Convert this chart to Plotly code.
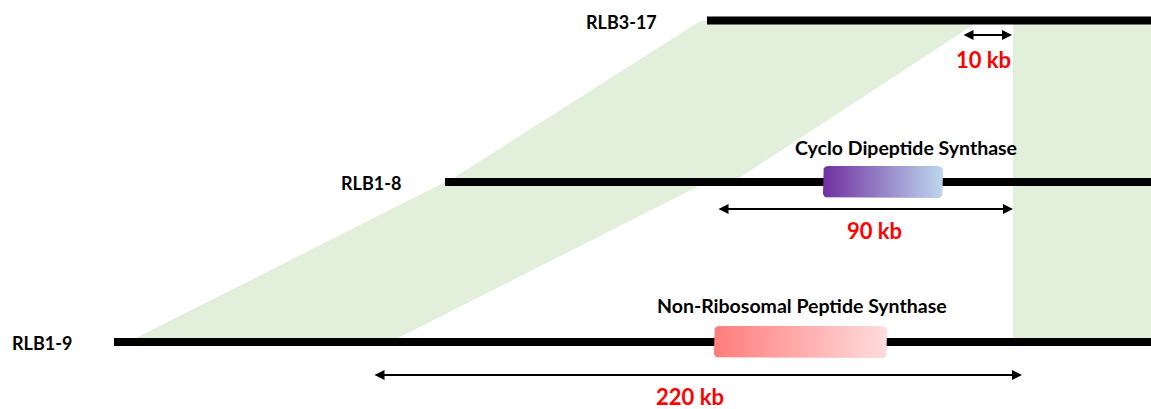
import math
import plotly.graph_objects as go

# Genome tracks (schematic map units, 1 unit = 1 px along each axis)
track_names = ["RLB3-17", "RLB1-8", "RLB1-9"]
track_y = [20.5, 182, 342]
track_start = [707, 445, 114]
track_end = [1151, 1151, 1151]
track_label_x = [584, 339, 10]

# Syntenic blocks between neighbouring tracks: (upper track, lower track) and x extents
block_pairs = [(0, 1), (1, 2)]
block_upper_x = [[701, 980], [445, 707]]
block_lower_x = [[447, 733], [128, 390]]

# Conserved region shared by all three tracks
shared_x = [1013, 1151]
shared_tracks = (0, 2)

# Biosynthetic genes
gene_names = ["Cyclo Dipeptide Synthase", "Non-Ribosomal Peptide Synthase"]
gene_track = [1, 2]
gene_start = [823, 714]
gene_end = [943, 887]
gene_colors = [["#7030A0", "#BDD7EE"], ["#FF7C7C", "#FFDCDC"]]
gene_label_x = [906, 802]
gene_label_y = [147, 305]

# Distance markers
dist_labels = ["10 kb", "90 kb", "220 kb"]
dist_start = [962, 717, 373]
dist_end = [1012, 1013, 1022]
dist_y = [35, 209, 375]
dist_label_x = [983, 874, 690]
dist_label_y = [59, 230, 396]

GREEN = "#E2EFDA"
FONT = "Lato"

fig = go.Figure()

# Green syntenic blocks
for (a, b), ux, lx in zip(block_pairs, block_upper_x, block_lower_x):
    fig.add_trace(go.Scatter(
        x=[ux[0], ux[1], lx[1], lx[0], ux[0]],
        y=[track_y[a], track_y[a], track_y[b], track_y[b], track_y[a]],
        mode="lines", fill="toself", fillcolor=GREEN,
        line=dict(width=0, color=GREEN), hoverinfo="skip", showlegend=False))

ta, tb = shared_tracks
fig.add_trace(go.Scatter(
    x=[shared_x[0], shared_x[1], shared_x[1], shared_x[0], shared_x[0]],
    y=[track_y[ta], track_y[ta], track_y[tb], track_y[tb], track_y[ta]],
    mode="lines", fill="toself", fillcolor=GREEN,
    line=dict(width=0, color=GREEN), hoverinfo="skip", showlegend=False))

# Black genome tracks
for y, x0, x1 in zip(track_y, track_start, track_end):
    fig.add_trace(go.Scatter(
        x=[x0, x1], y=[y, y], mode="lines",
        line=dict(color="black", width=8), hoverinfo="skip", showlegend=False))


def rounded_rect(x0, x1, y0, y1, r, n=6):
    """Outline of a rounded rectangle as a closed polyline."""
    xs, ys = [], []
    corners = [(x1 - r, y0 + r, -90, 0), (x1 - r, y1 - r, 0, 90),
               (x0 + r, y1 - r, 90, 180), (x0 + r, y0 + r, 180, 270)]
    for cx, cy, a0, a1 in corners:
        for i in range(n + 1):
            t = math.radians(a0 + (a1 - a0) * i / n)
            xs.append(cx + r * math.cos(t))
            ys.append(cy + r * math.sin(t))
    xs.append(xs[0])
    ys.append(ys[0])
    return xs, ys


# Gene boxes with horizontal colour gradients
GENE_HALF_HEIGHT = 16
for t, x0, x1, cols in zip(gene_track, gene_start, gene_end, gene_colors):
    yc = track_y[t]
    xs, ys = rounded_rect(x0, x1, yc - GENE_HALF_HEIGHT, yc + GENE_HALF_HEIGHT, 5)
    fig.add_trace(go.Scatter(
        x=xs, y=ys, mode="lines", fill="toself",
        fillgradient=dict(type="horizontal", colorscale=[[0, cols[0]], [1, cols[1]]],
                          start=x0, stop=x1),
        line=dict(width=0, color=cols[1]), hoverinfo="skip", showlegend=False))

annotations = []

# Track labels
for name, lx, y in zip(track_names, track_label_x, track_y):
    annotations.append(dict(
        x=lx, y=y + 1, xref="x", yref="y", text=f"<b>{name}</b>", showarrow=False,
        xanchor="left", yanchor="middle", font=dict(family=FONT, size=18, color="black")))

# Gene labels
for name, lx, ly in zip(gene_names, gene_label_x, gene_label_y):
    annotations.append(dict(
        x=lx, y=ly, xref="x", yref="y", text=f"<b>{name}</b>", showarrow=False,
        xanchor="center", yanchor="middle", font=dict(family=FONT, size=19.5, color="black")))

# Distance arrows and labels
for lab, x0, x1, y, lx, ly in zip(dist_labels, dist_start, dist_end, dist_y,
                                  dist_label_x, dist_label_y):
    annotations.append(dict(
        x=x1, y=y, ax=x0, ay=y, xref="x", yref="y", axref="x", ayref="y",
        text="", showarrow=True, arrowhead=2, startarrowhead=2, arrowside="end+start",
        arrowwidth=2, arrowsize=1, startarrowsize=1, arrowcolor="black",
        standoff=0, startstandoff=0))
    annotations.append(dict(
        x=lx, y=ly, xref="x", yref="y", text=f"<b>{lab}</b>", showarrow=False,
        xanchor="center", yanchor="middle", font=dict(family=FONT, size=22, color="#FF0000")))

fig.update_layout(
    width=1151, height=409,
    margin=dict(l=0, r=0, t=0, b=0),
    paper_bgcolor="white", plot_bgcolor="white",
    xaxis=dict(range=[0, 1151], visible=False, fixedrange=True),
    yaxis=dict(range=[409, 0], visible=False, fixedrange=True),
    annotations=annotations,
    showlegend=False,
)

fig.write_html("out.html")
